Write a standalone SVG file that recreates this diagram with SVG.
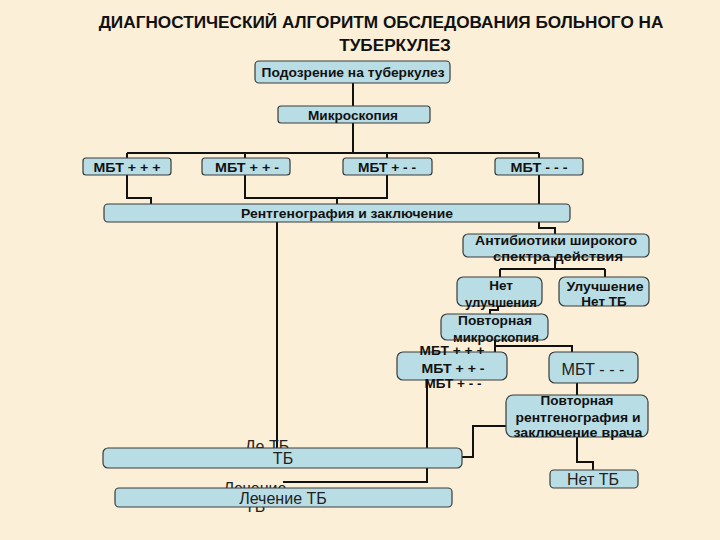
<svg xmlns="http://www.w3.org/2000/svg" width="720" height="540" viewBox="0 0 720 540">
<style>
.bg{fill:#FBEFD8}
.box{fill:#B9DDE4;stroke:#3a3a3a;stroke-width:1.2}
.t{font-family:"Liberation Sans",Arial,sans-serif;font-weight:bold;fill:#111;text-anchor:middle;font-size:13.5px}
.n{font-family:"Liberation Sans",Arial,sans-serif;fill:#222;text-anchor:middle;font-size:16px}
.title{font-family:"Liberation Sans",Arial,sans-serif;font-weight:bold;fill:#111;text-anchor:middle;font-size:17.2px}
.ln{fill:none;stroke:#111;stroke-width:2}
</style>
<rect class="bg" x="0" y="0" width="720" height="540"/>
<g id="title">
<text class="title" x="381" y="28">ДИАГНОСТИЧЕСКИЙ АЛГОРИТМ ОБСЛЕДОВАНИЯ БОЛЬНОГО НА</text>
<text class="title" x="395" y="51">ТУБЕРКУЛЕЗ</text>
</g>
<g id="connectors">
<path class="ln" d="M353,83 V107"/>
<path class="ln" d="M353,123 V153"/>
<path class="ln" d="M127,153 H539 M127,153 V158 M245,153 V158 M387,153 V158 M539,153 V158"/>
<path class="ln" d="M127,175 V198 H151 V204"/>
<path class="ln" d="M245,175 V198 H387 V175 M337,198 V204"/>
<path class="ln" d="M539,175 V204"/>
<path class="ln" d="M539,222 V228 H555 V234"/>
<path class="ln" d="M555,250 V269 M500,269 H605 M500,269 V277 M605,269 V277"/>
<path class="ln" d="M498,305 V310 H490 V314"/>
<path class="ln" d="M495,340 V352 M495,346 H572 V352"/>
<path class="ln" d="M277,222 V448"/>
<path class="ln" d="M427,380 V448 M427,468 V482 H283"/>
<path class="ln" d="M462,457 H473 V426 H506"/>
<path class="ln" d="M577,383 V395"/>
<path class="ln" d="M577,437 V462 H593 V470"/>
</g>
<g id="hidden-labels">
<text class="n" x="267" y="452">Де ТБ</text>
<text class="n" x="255" y="494">Лечение</text>
<text class="n" x="255" y="512">ТБ</text>
</g>
<g id="n-suspicion">
<rect class="box" x="255" y="61" width="195" height="22" rx="4"/>
<text class="t" x="353" y="77" textLength="183" lengthAdjust="spacingAndGlyphs">Подозрение на туберкулез</text>
</g>
<g id="n-microscopy">
<rect class="box" x="278" y="106" width="152" height="17" rx="3"/>
<text class="t" x="353" y="119.5" textLength="90" lengthAdjust="spacingAndGlyphs">Микроскопия</text>
</g>
<g id="n-mbt1">
<rect class="box" x="83" y="158" width="88" height="17" rx="3"/>
<text class="t" x="127" y="171.5" textLength="67" lengthAdjust="spacingAndGlyphs">МБТ + + +</text>
</g>
<g id="n-mbt2">
<rect class="box" x="202" y="158" width="88" height="17" rx="3"/>
<text class="t" x="247" y="171.5" textLength="64" lengthAdjust="spacingAndGlyphs">МБТ + + -</text>
</g>
<g id="n-mbt3">
<rect class="box" x="343" y="158" width="89" height="17" rx="3"/>
<text class="t" x="387" y="171.5" textLength="58" lengthAdjust="spacingAndGlyphs">МБТ + - -</text>
</g>
<g id="n-mbt4">
<rect class="box" x="495" y="158" width="88" height="17" rx="3"/>
<text class="t" x="539" y="171.5" textLength="57" lengthAdjust="spacingAndGlyphs">МБТ - - -</text>
</g>
<g id="n-xray">
<rect class="box" x="104" y="204" width="466" height="18" rx="4"/>
<text class="t" x="347" y="218" textLength="212" lengthAdjust="spacingAndGlyphs">Рентгенография и заключение</text>
</g>
<g id="n-antibiotics">
<rect class="box" x="463" y="234" width="186" height="23" rx="5"/>
<text class="t" x="556" y="245" textLength="162" lengthAdjust="spacingAndGlyphs">Антибиотики широкого</text>
<text class="t" x="558" y="261" textLength="130" lengthAdjust="spacingAndGlyphs">спектра действия</text>
</g>
<g id="n-noimprove">
<rect class="box" x="457" y="277" width="85" height="29" rx="6"/>
<text class="t" x="501" y="290">Нет</text>
<text class="t" x="501" y="307" textLength="72" lengthAdjust="spacingAndGlyphs">улучшения</text>
</g>
<g id="n-improve">
<rect class="box" x="559" y="277" width="90" height="29" rx="6"/>
<text class="t" x="605" y="291" textLength="77" lengthAdjust="spacingAndGlyphs">Улучшение</text>
<text class="t" x="604" y="306">Нет ТБ</text>
</g>
<g id="n-repeat-micro">
<rect class="box" x="441" y="314" width="107" height="26" rx="6"/>
<text class="t" x="495" y="325" textLength="74" lengthAdjust="spacingAndGlyphs">Повторная</text>
<text class="t" x="496" y="342" textLength="86" lengthAdjust="spacingAndGlyphs">микроскопия</text>
</g>
<g id="n-mbt-group">
<rect class="box" x="397" y="352" width="110" height="28" rx="6"/>
<text class="t" x="452" y="355" textLength="65" lengthAdjust="spacingAndGlyphs">МБТ + + +</text>
<text class="t" x="453" y="373" textLength="63" lengthAdjust="spacingAndGlyphs">МБТ + + -</text>
<text class="t" x="453" y="388" textLength="57" lengthAdjust="spacingAndGlyphs">МБТ + - -</text>
</g>
<g id="n-mbt-neg">
<rect class="box" x="549" y="352" width="89" height="31" rx="6"/>
<text class="n" x="593" y="375" textLength="63" lengthAdjust="spacingAndGlyphs">МБТ - - -</text>
</g>
<g id="n-repeat-xray">
<rect class="box" x="506" y="395" width="142" height="42" rx="7"/>
<text class="t" x="577" y="405" textLength="73" lengthAdjust="spacingAndGlyphs">Повторная</text>
<text class="t" x="578" y="422" textLength="125" lengthAdjust="spacingAndGlyphs">рентгенография и</text>
<text class="t" x="578" y="437" textLength="129" lengthAdjust="spacingAndGlyphs">заключение врача</text>
</g>
<g id="n-notb">
<rect class="box" x="550" y="470" width="88" height="18" rx="4"/>
<text class="n" x="593" y="485">Нет ТБ</text>
</g>
<g id="n-tb">
<rect class="box" x="103" y="448" width="359" height="20" rx="5"/>
<text class="n" x="283" y="464">ТБ</text>
</g>
<g id="n-treatment">
<rect class="box" x="115" y="488" width="337" height="19" rx="4"/>
<text class="n" x="283" y="503.5">Лечение ТБ</text>
</g>
</svg>
